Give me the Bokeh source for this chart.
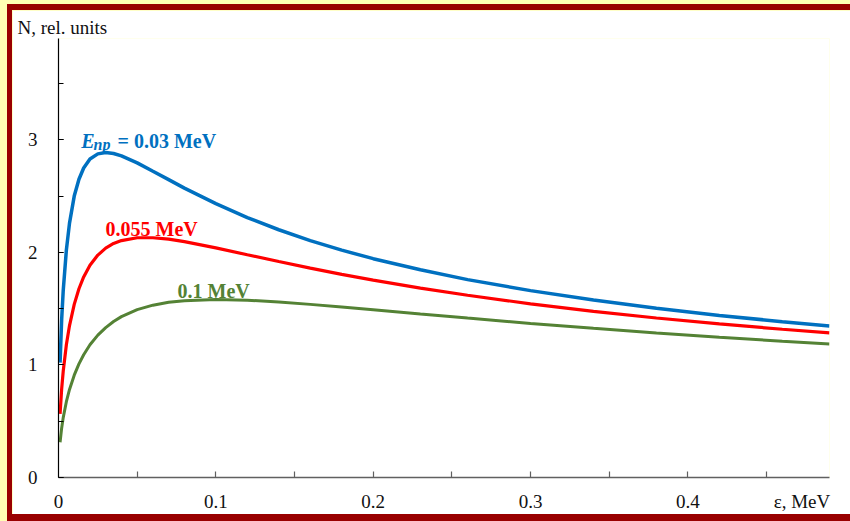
from bokeh.plotting import figure
from bokeh.models import Range1d, SingleIntervalTicker, FixedTicker, Label, Title
from bokeh.layouts import column
from bokeh.embed import file_html
from bokeh.resources import INLINE

# Energy of the emitted particle, MeV (sample points)
eps = [0.001, 0.002, 0.003, 0.005, 0.007, 0.01, 0.013, 0.016, 0.02, 0.025,
       0.03, 0.035, 0.04, 0.05, 0.06, 0.07, 0.08, 0.10, 0.12, 0.14,
       0.16, 0.18, 0.20, 0.23, 0.26, 0.30, 0.34, 0.38, 0.42, 0.46, 0.49]

# N, rel. units for E_np = 0.03 MeV
n_003 = [1.02, 1.40, 1.66, 2.02, 2.26, 2.50, 2.65, 2.75, 2.83, 2.875,
         2.887, 2.878, 2.857, 2.795, 2.72, 2.646, 2.571, 2.433, 2.309, 2.201,
         2.105, 2.02, 1.944, 1.845, 1.758, 1.66, 1.576, 1.504, 1.44, 1.384, 1.346]

# N for E_np = 0.055 MeV
n_0055 = [0.565, 0.785, 0.944, 1.179, 1.35, 1.538, 1.677, 1.782, 1.886, 1.976,
          2.038, 2.079, 2.105, 2.13, 2.13, 2.117, 2.095, 2.04, 1.979, 1.919,
          1.86, 1.805, 1.754, 1.683, 1.619, 1.543, 1.476, 1.417, 1.364, 1.317, 1.284]

# N for E_np = 0.1 MeV
n_01 = [0.313, 0.438, 0.532, 0.673, 0.782, 0.909, 1.009, 1.09, 1.179, 1.265,
        1.332, 1.386, 1.429, 1.491, 1.531, 1.556, 1.571, 1.581, 1.575, 1.559,
        1.538, 1.515, 1.491, 1.453, 1.416, 1.369, 1.325, 1.284, 1.246, 1.211, 1.186]

series_labels = ["0.055 MeV", "0.1 MeV"]

# x-axis: labelled ticks, the axis title sits at the end of the tick row
x_tick_values = [0, 0.1, 0.2, 0.3, 0.4]
x_minor_values = [0.05, 0.1, 0.15, 0.2, 0.25, 0.3, 0.35, 0.4, 0.45]
x_title_pos = 0.4725
x_title = "ε, MeV"
y_title = "N, rel. units"

BLUE = "#0070C0"
RED = "#FF0000"
GREEN = "#548235"
SERIF = "Liberation Serif"
TXT = "#111111"

p = figure(width=838, height=504,
           x_range=Range1d(0, 0.49), y_range=Range1d(0, 3.9),
           output_backend="svg", toolbar_location=None,
           min_border_left=46, min_border_right=21,
           min_border_top=28, min_border_bottom=35)
p.background_fill_color = "white"
p.border_fill_color = "white"
p.outline_line_color = None
p.xgrid.visible = False
p.ygrid.visible = False

p.line(eps, n_003, line_color=BLUE, line_width=3.5)
p.line(eps, n_0055, line_color=RED, line_width=3.2)
p.line(eps, n_01, line_color=GREEN, line_width=3.0)

# x axis
xa = p.xaxis[0]
xa.ticker = FixedTicker(ticks=x_tick_values + [x_title_pos],
                        minor_ticks=x_minor_values)
xa.major_label_overrides = {x_title_pos: x_title}
xa.axis_line_color = "#606060"
xa.axis_line_width = 1.7
xa.major_tick_line_color = None
xa.major_tick_in = 0
xa.major_tick_out = 0
xa.minor_tick_line_color = "#606060"
xa.minor_tick_line_width = 1.2
xa.minor_tick_in = 6
xa.minor_tick_out = 0
xa.major_label_standoff = 13
xa.major_label_text_font = SERIF
xa.major_label_text_font_size = "19px"
xa.major_label_text_color = TXT

# y axis
ya = p.yaxis[0]
ya.ticker = SingleIntervalTicker(interval=1, num_minor_ticks=2)
ya.axis_line_color = "black"
ya.axis_line_width = 1.2
ya.major_tick_line_color = "black"
ya.minor_tick_line_color = "black"
ya.major_tick_in = 5
ya.major_tick_out = 0
ya.minor_tick_in = 5
ya.minor_tick_out = 0
ya.major_label_standoff = 21
ya.major_label_text_font = SERIF
ya.major_label_text_font_size = "19px"
ya.major_label_text_color = TXT

# y-axis title in the top panel
p.title = Title(text=y_title, align="left", offset=-41, standoff=0,
                vertical_align="middle",
                text_font=SERIF, text_font_style="normal",
                text_font_size="19px", text_color=TXT)

# curve labels
p.add_layout(Label(x=0.01444, y=2.985, text="E", text_font=SERIF,
                   text_font_style="bold italic", text_font_size="20px",
                   text_color=BLUE, text_baseline="alphabetic"))
p.add_layout(Label(x=0.02226, y=2.955, text="np", text_font=SERIF,
                   text_font_style="bold italic", text_font_size="16px",
                   text_color=BLUE, text_baseline="alphabetic"))
p.add_layout(Label(x=0.03752, y=2.985, text="= 0.03 MeV", text_font=SERIF,
                   text_font_style="bold", text_font_size="20px",
                   text_color=BLUE, text_baseline="alphabetic"))
p.add_layout(Label(x=0.02989, y=2.2035, text=series_labels[0], text_font=SERIF,
                   text_font_style="bold", text_font_size="20px",
                   text_color=RED, text_baseline="alphabetic"))
p.add_layout(Label(x=0.07568, y=1.655, text=series_labels[1], text_font=SERIF,
                   text_font_style="bold", text_font_size="20px",
                   text_color=GREEN, text_baseline="alphabetic"))

inner = column(p, styles={"border-left": "5px solid #990000",
                          "border-top": "6px solid #990000",
                          "border-bottom": "7px solid #990000"})
outer = column(inner, styles={"background-color": "#FFFFB4",
                              "padding-left": "7px", "padding-top": "4px"})

open("out.html", "w").write(file_html(outer, INLINE))
